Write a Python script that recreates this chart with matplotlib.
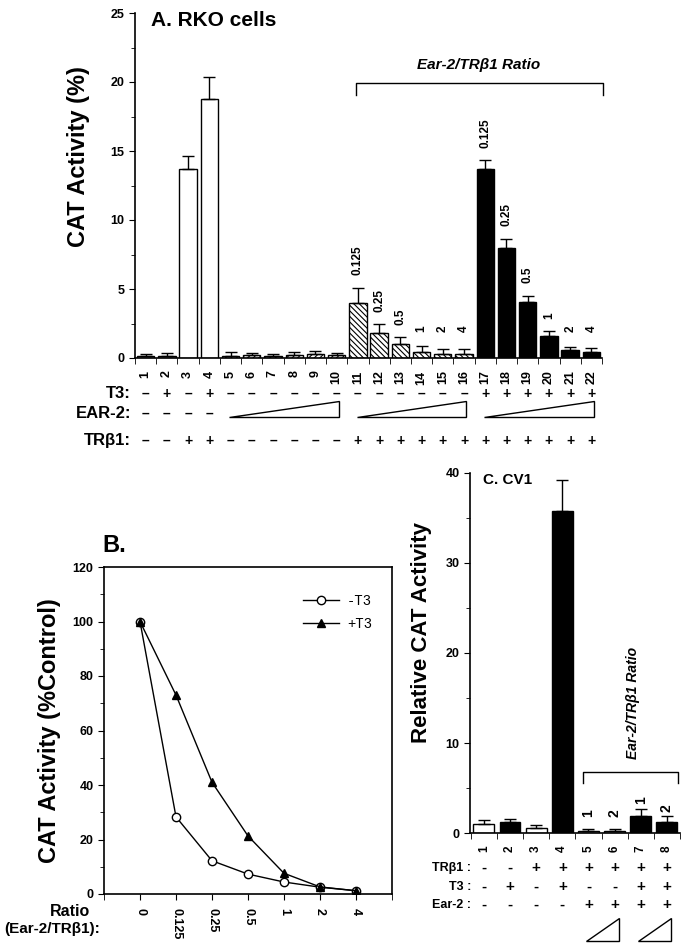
import matplotlib
matplotlib.use("Agg")
import matplotlib.pyplot as plt
import matplotlib.transforms as mtransforms
from matplotlib.patches import Polygon

plt.rcParams['font.family'] = ['Liberation Sans', 'DejaVu Sans']
plt.rcParams['font.weight'] = 'bold'
plt.rcParams['axes.labelweight'] = 'bold'
plt.rcParams['hatch.linewidth'] = 0.8
plt.rcParams['axes.linewidth'] = 1.2

# ---- panel A: RKO cells ----
a_lanes = list(range(1, 23))
a_mean = [0.15, 0.15, 13.7, 18.8, 0.15, 0.2, 0.15, 0.25, 0.3, 0.2,
          3.95, 1.8, 1.0, 0.45, 0.3, 0.3,
          13.7, 8.0, 4.05, 1.6, 0.55, 0.45]
a_err = [0.15, 0.2, 0.95, 1.55, 0.25, 0.15, 0.15, 0.15, 0.2, 0.15,
         1.15, 0.65, 0.5, 0.45, 0.35, 0.35,
         0.65, 0.65, 0.45, 0.35, 0.25, 0.25]
a_ratio = ['0.125', '0.25', '0.5', '1', '2', '4']
a_t3 = '-+-+------------++++++'
a_tr = '--++------++++++++++++'

# ---- panel B: % control vs ratio ----
b_ratio = ['0', '0.125', '0.25', '0.5', '1', '2', '4']
b_minus = [100, 28.3, 12.2, 7.3, 4.4, 2.5, 1.2]
b_plus = [100, 73, 41, 21.3, 7.6, 2.6, 1.2]

# ---- panel C: CV1 ----
c_lanes = list(range(1, 9))
c_mean = [1.05, 1.25, 0.55, 35.8, 0.2, 0.2, 1.85, 1.2]
c_err = [0.45, 0.35, 0.3, 3.4, 0.25, 0.25, 0.85, 0.65]
c_ratio = ['1', '2', '1', '2']
c_tr = '--++++++'
c_t3 = '-+-+--++'
c_ear = '----++++'

W, H = 685, 950
fig = plt.figure(figsize=(W / 100, H / 100), dpi=100)


def box(l, t, r, b):
    return [l / W, 1 - b / H, (r - l) / W, (b - t) / H]


def fy(px):
    return 1 - px / H


sign = {'-': '\u2013', '+': '+'}

# ================= A =================
ax = fig.add_axes(box(135, 13, 602, 358))
fills = ['#b8b8b8'] * 2 + ['white'] * 2 + ['white'] * 6 + ['white'] * 6 + ['black'] * 6
hatches = [None] * 4 + ['//////'] * 6 + ['\\\\\\\\\\\\'] * 6 + [None] * 6
for x, m, f, h in zip(a_lanes, a_mean, fills, hatches):
    ax.bar(x, m, width=0.82, color=f, edgecolor='black', linewidth=1.0, hatch=h, zorder=2)
ax.errorbar(a_lanes, a_mean, yerr=[[0] * 22, a_err], fmt='none', ecolor='black',
            elinewidth=1.0, capsize=4, capthick=1.0, zorder=3)
ax.set_xlim(0.58, 22.42)
ax.set_ylim(0, 25)
ax.set_yticks(range(0, 26, 5))
ax.set_yticks([2.5 + 5 * i for i in range(5)], minor=True)
ax.set_xticks(a_lanes)
ax.set_xticklabels([str(i) for i in a_lanes], rotation=90, fontsize=9)
ax.set_xticks([i + 0.5 for i in range(0, 23)], minor=True)
ax.tick_params(axis='x', which='major', length=0, pad=9)
ax.tick_params(axis='x', which='minor', length=4, direction='out')
ax.tick_params(axis='y', which='both', direction='out', labelsize=9)
ax.tick_params(axis='y', which='major', length=4)
ax.tick_params(axis='y', which='minor', length=3)
ax.spines['top'].set_visible(False)
ax.spines['right'].set_visible(False)
ax.set_ylabel('CAT Activity (%)', fontsize=17)
ax.yaxis.set_label_coords(-0.096, 0.583)
ax.text(0.035, 0.978, 'A. RKO cells', transform=ax.transAxes, fontsize=15, va='center')

# ratio labels above bars 11-22
for k, x in enumerate(a_lanes[10:]):
    top = a_mean[10 + k] + a_err[10 + k]
    ax.text(x, max(top + 0.9, 1.9), a_ratio[k % 6], rotation=90, ha='center',
            va='bottom', fontsize=8.5)
# bracket
ax.plot([10.92, 10.92, 22.56, 22.56], [19.05, 19.9, 19.9, 19.05], color='black',
        lw=1.0, clip_on=False)
ax.text(16.7, 21.2, 'Ear-2/TR\u03b21 Ratio', ha='center', va='center', fontsize=11,
        style='italic')

# condition rows
tA = mtransforms.blended_transform_factory(ax.transData, fig.transFigure)
for label, ypx in [('T3:', 394), ('EAR-2:', 414), ('TR\u03b21:', 441)]:
    fig.text(131 / W, fy(ypx), label, ha='right', va='center', fontsize=12)
for x, s in zip(a_lanes, a_t3):
    ax.text(x, fy(394), sign[s], transform=tA, ha='center', va='center', fontsize=10)
for x, s in zip(a_lanes, a_tr):
    ax.text(x, fy(441), sign[s], transform=tA, ha='center', va='center', fontsize=10)
for x in a_lanes[:4]:
    ax.text(x, fy(414), sign['-'], transform=tA, ha='center', va='center', fontsize=10)
for g0, g1 in [(5, 10), (11, 16), (17, 22)]:
    tri = Polygon([(g0 - 0.05, fy(417)), (g1 + 0.1, fy(417)), (g1 + 0.1, fy(401))],
                  closed=True, facecolor='white', edgecolor='black', lw=1.0,
                  transform=tA, clip_on=False)
    ax.add_patch(tri)

# ================= B =================
bx = fig.add_axes(box(104, 567, 392, 894))
pos = list(range(len(b_ratio)))
bx.plot(pos, b_minus, color='black', lw=1.0, marker='o', ms=6, mfc='white',
        mec='black', label='-T3', zorder=3)
bx.plot(pos, b_plus, color='black', lw=1.0, marker='^', ms=6, mfc='black',
        mec='black', label='+T3', zorder=3)
bx.set_xlim(-1, 7)
bx.set_ylim(0, 120)
bx.set_yticks(range(0, 121, 20))
bx.set_yticks(range(10, 120, 20), minor=True)
bx.set_xticks(pos)
bx.set_xticklabels(b_ratio, rotation=-90, fontsize=9)
bx.set_xticks([-1, 7], minor=True)
bx.tick_params(axis='x', which='both', length=4, pad=6, direction='out')
bx.tick_params(axis='y', which='both', direction='out', labelsize=9)
bx.tick_params(axis='y', which='major', length=4)
bx.tick_params(axis='y', which='minor', length=3)
bx.set_ylabel('CAT Activity (%Control)', fontsize=17, labelpad=8)
fig.text(102 / W, fy(546), 'B.', fontsize=17, va='center', ha='left')
fig.text(70 / W, fy(911), 'Ratio', fontsize=11.5, ha='center', va='center')
fig.text(100 / W, fy(929), '(Ear-2/TR\u03b21):', fontsize=11, ha='right', va='center')
leg = bx.legend(loc='upper right', bbox_to_anchor=(0.975, 0.955), frameon=False,
                prop={'family': 'Liberation Mono', 'size': 10, 'weight': 'normal'},
                handlelength=2.6, labelspacing=0.6, handletextpad=0.6)

# ================= C =================
cx = fig.add_axes(box(470, 473, 680, 833))
cfill = ['white', 'black', 'white', 'black', '#c0c0c0', '#c0c0c0', 'black', 'black']
cx.bar(c_lanes, c_mean, width=0.8, color=cfill, edgecolor='black', linewidth=1.0, zorder=2)
cx.errorbar(c_lanes, c_mean, yerr=[[0] * 8, c_err], fmt='none', ecolor='black',
            elinewidth=1.0, capsize=4.5, capthick=1.0, zorder=3)
cx.set_xlim(0.47, 8.46)
cx.set_ylim(0, 40)
cx.set_yticks(range(0, 41, 10))
cx.set_yticks(range(5, 40, 10), minor=True)
cx.set_xticks(c_lanes)
cx.set_xticklabels([str(i) for i in c_lanes], rotation=90, fontsize=8.5)
cx.set_xticks([i + 0.5 for i in range(0, 9)], minor=True)
cx.tick_params(axis='x', which='major', length=0, pad=9)
cx.tick_params(axis='x', which='minor', length=4)
cx.tick_params(axis='y', which='both', direction='out', labelsize=9)
cx.tick_params(axis='y', which='major', length=4)
cx.tick_params(axis='y', which='minor', length=3)
cx.spines['top'].set_visible(False)
cx.spines['right'].set_visible(False)
cx.set_ylabel('Relative CAT Activity', fontsize=16)
cx.yaxis.set_label_coords(-0.18, 0.558)
cx.text(0.06, 0.98, 'C. CV1', transform=cx.transAxes, fontsize=11, va='center')

for k, x in enumerate(c_lanes[4:]):
    top = c_mean[4 + k] + c_err[4 + k]
    cx.text(x, max(top + 0.5, 1.8), c_ratio[k], rotation=90, ha='center',
            va='bottom', fontsize=10)
cx.plot([4.78, 4.78, 8.44, 8.44], [5.56, 6.78, 6.78, 5.56], color='black', lw=1.0,
        clip_on=False)
cx.text(6.69, 14.4, 'Ear-2/TR\u03b21 Ratio', rotation=90, ha='center', va='center',
        fontsize=10, style='italic')

tC = mtransforms.blended_transform_factory(cx.transData, fig.transFigure)
for label, ypx, row in [('TR\u03b21 :', 868, c_tr), ('T3 :', 887, c_t3), ('Ear-2 :', 905, c_ear)]:
    fig.text(471 / W, fy(ypx), label, ha='right', va='center', fontsize=9)
    for x, s in zip(c_lanes, row):
        cx.text(x, fy(ypx), s, transform=tC, ha='center', va='center', fontsize=11)
for g0, g1 in [(5, 6), (7, 8)]:
    tri = Polygon([(g0 - 0.1, fy(941)), (g1 + 0.15, fy(941)), (g1 + 0.15, fy(918))],
                  closed=True, facecolor='white', edgecolor='black', lw=1.0,
                  transform=tC, clip_on=False)
    cx.add_patch(tri)

fig.savefig('out.png', dpi=100)
